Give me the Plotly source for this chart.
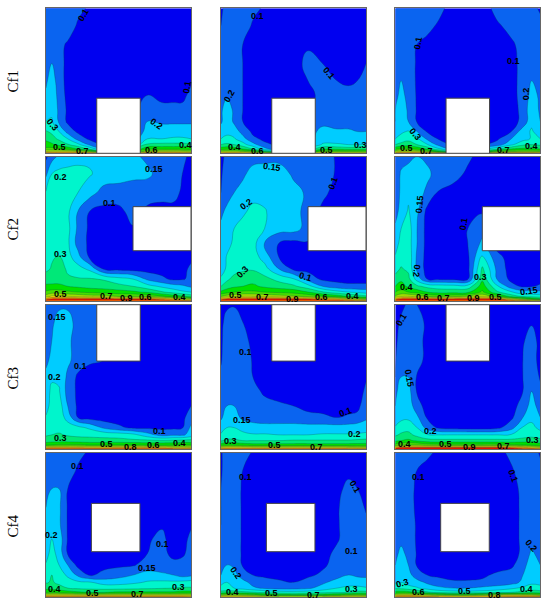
# Cf contour panels, 4 rows x 3 columns
import numpy as np
import plotly.graph_objects as go

# grid of every panel (fractions of the cavity), rows of z go bottom -> top
grid_x = [0, .04, .09, .15, .22, .30, .40, .50, .60, .70, .80, .88, .94, 1]
grid_y = [0, .012, .03, .06, .10, .15, .22, .30, .40, .50, .62, .75, .88, 1]

# values in hundredths
cf1_a = [
    [95, 100, 100, 100, 100, 95, 90, 90, 90, 95, 100, 100, 100, 95],
    [70, 72, 73, 72, 70, 62, 40, 40, 50, 66, 70, 70, 68, 65],
    [53, 54, 52, 47, 40, 28, 15, 15, 30, 48, 48, 48, 48, 46],
    [44, 42, 37, 31, 23, 14, 8, 8, 15, 32, 33, 33, 33, 32],
    [38, 34, 28, 20, 13, 8, 6, 6, 12, 20, 20, 21, 21, 20],
    [31, 28, 20, 13, 8, 6, 5, 5, 10, 17, 18, 18, 18, 18],
    [20, 21, 14, 8, 6, 5, 5, 5, 8, 15, 14, 14, 14, 14],
    [17, 19, 14, 8, 6, 5, 5, 5, 8, 12, 11, 11, 11, 12],
    [16, 19, 13, 7, 6, 5, 5, 5, 8, 10, 8, 8, 8, 11],
    [14, 18, 12, 7, 6, 5, 5, 5, 6, 7, 6, 6, 6, 9],
    [13, 15, 12, 7, 6, 5, 5, 5, 5, 5, 5, 5, 5, 7],
    [12, 12, 11, 9, 7, 5, 5, 5, 5, 5, 5, 5, 5, 6],
    [12, 12, 12, 12, 9, 7, 5, 5, 5, 5, 5, 5, 5, 6],
    [12, 12, 12, 12, 11, 9, 6, 5, 5, 5, 5, 5, 5, 6],
]
cf1_b = [
    [85, 90, 90, 90, 90, 80, 80, 80, 80, 80, 85, 85, 85, 80],
    [65, 66, 66, 62, 56, 40, 25, 25, 40, 58, 58, 58, 58, 56],
    [46, 48, 46, 40, 30, 17, 10, 10, 25, 38, 38, 36, 36, 36],
    [30, 32, 30, 24, 17, 11, 8, 8, 15, 21, 21, 20, 20, 20],
    [20, 22, 21, 17, 11, 8, 6, 6, 13, 18, 18, 18, 18, 18],
    [18, 19, 18, 13, 8, 6, 5, 5, 12, 17, 16, 16, 15, 15],
    [14, 19, 14, 10, 7, 5, 5, 5, 10, 13, 12, 12, 12, 13],
    [14, 18, 14, 10, 7, 5, 5, 5, 9, 12, 12, 12, 12, 12],
    [12, 14, 12, 10, 7, 5, 5, 5, 8, 11, 11, 11, 11, 11],
    [12, 12, 12, 10, 7, 5, 5, 6, 10, 11, 10, 9, 10, 11],
    [12, 12, 12, 10, 7, 5, 5, 7, 11, 10, 8, 7, 8, 10],
    [11, 12, 12, 10, 7, 5, 5, 6, 9, 9, 6, 5, 5, 6],
    [10, 12, 12, 12, 9, 7, 5, 5, 5, 5, 5, 5, 5, 5],
    [8, 12, 12, 12, 11, 9, 6, 5, 5, 5, 5, 5, 5, 5],
]
cf1_c = [
    [95, 100, 100, 100, 100, 95, 90, 90, 90, 95, 100, 100, 100, 95],
    [66, 70, 70, 68, 62, 45, 30, 30, 40, 55, 60, 62, 62, 60],
    [48, 52, 52, 48, 38, 22, 12, 12, 18, 28, 40, 42, 42, 40],
    [30, 33, 35, 30, 21, 13, 8, 8, 9, 12, 19, 28, 30, 28],
    [20, 24, 27, 22, 14, 9, 6, 6, 6, 8, 15, 18, 21, 20],
    [18, 19, 21, 15, 9, 6, 5, 5, 5, 6, 10, 18, 21, 18],
    [15, 19, 15, 9, 6, 5, 5, 5, 5, 5, 7, 11, 19, 15],
    [15, 19, 14, 9, 6, 5, 5, 5, 5, 5, 7, 11, 19, 14],
    [13, 17, 13, 9, 6, 5, 5, 5, 5, 5, 8, 11, 17, 14],
    [13, 15, 12, 9, 6, 5, 5, 5, 5, 5, 8, 11, 15, 13],
    [12, 13, 12, 9, 7, 5, 5, 5, 5, 5, 8, 11, 12, 12],
    [12, 12, 12, 10, 8, 6, 5, 5, 5, 6, 9, 11, 12, 12],
    [12, 12, 12, 12, 11, 9, 6, 5, 6, 9, 11, 12, 12, 12],
    [12, 12, 12, 12, 12, 11, 7, 5, 7, 11, 12, 12, 12, 8],
]
cf2_a = [
    [105, 110, 110, 110, 110, 110, 110, 110, 110, 110, 110, 105, 105, 100],
    [85, 92, 95, 95, 95, 95, 95, 90, 90, 90, 85, 78, 70, 65],
    [65, 72, 72, 70, 68, 65, 65, 60, 60, 58, 52, 46, 42, 36],
    [52, 55, 55, 52, 50, 48, 46, 44, 42, 38, 31, 26, 22, 20],
    [42, 42, 42, 40, 38, 36, 35, 33, 30, 24, 19, 17, 16, 14],
    [35, 36, 36, 32, 31, 31, 29, 24, 20, 14, 11, 8, 9, 11],
    [28, 31, 36, 28, 24, 19, 9, 7, 6, 6, 6, 6, 7, 11],
    [28, 29, 31, 24, 17, 9, 6, 5, 5, 5, 5, 5, 5, 8],
    [27, 25, 24, 22, 13, 8, 6, 5, 5, 5, 5, 5, 5, 5],
    [25, 24, 24, 23, 14, 8, 6, 6, 9, 8, 7, 7, 7, 7],
    [24, 25, 25, 22, 15, 10, 7, 7, 12, 8, 8, 8, 8, 8],
    [21, 24, 24, 23, 20, 17, 13, 13, 13, 12, 11, 11, 9, 8],
    [14, 20, 23, 24, 24, 21, 18, 17, 16, 16, 13, 12, 10, 8],
    [8, 13, 16, 17, 18, 19, 18, 17, 16, 14, 13, 12, 11, 8],
]
cf2_b = [
    [105, 110, 110, 110, 110, 110, 110, 110, 110, 110, 105, 105, 100, 100],
    [85, 90, 95, 95, 95, 95, 95, 90, 90, 85, 80, 72, 66, 60],
    [60, 65, 68, 70, 70, 68, 65, 62, 58, 52, 46, 40, 36, 32],
    [42, 46, 50, 52, 52, 50, 48, 46, 40, 31, 24, 20, 19, 18],
    [30, 35, 38, 40, 42, 38, 35, 32, 24, 15, 12, 11, 11, 11],
    [22, 28, 33, 36, 36, 33, 27, 21, 13, 8, 7, 7, 7, 7],
    [17, 22, 26, 28, 29, 24, 15, 8, 7, 5, 5, 5, 5, 5],
    [16, 21, 25, 27, 25, 18, 10, 6, 5, 5, 5, 5, 5, 5],
    [16, 18, 22, 26, 24, 15, 10, 7, 9, 5, 5, 5, 5, 5],
    [16, 17, 20, 24, 24, 20, 17, 17, 13, 7, 5, 5, 5, 5],
    [14, 16, 18, 19, 23, 21, 17, 17, 13, 8, 6, 5, 5, 5],
    [10, 13, 15, 17, 18, 18, 18, 17, 14, 11, 7, 5, 5, 5],
    [9, 12, 13, 14, 17, 18, 18, 14, 12, 12, 9, 6, 5, 5],
    [8, 11, 12, 13, 13, 13, 13, 13, 13, 12, 9, 6, 5, 5],
]
cf2_c = [
    [105, 110, 110, 110, 110, 110, 110, 110, 110, 110, 105, 100, 95, 90],
    [85, 92, 95, 95, 92, 90, 92, 95, 95, 90, 72, 60, 50, 42],
    [62, 68, 70, 66, 60, 56, 58, 62, 68, 55, 36, 28, 26, 25],
    [50, 54, 50, 46, 40, 36, 36, 38, 52, 32, 21, 17, 17, 16],
    [40, 44, 38, 32, 27, 25, 24, 24, 45, 22, 12, 8, 9, 11],
    [33, 38, 33, 18, 10, 8, 8, 9, 38, 15, 7, 6, 6, 6],
    [27, 31, 28, 14, 6, 5, 5, 7, 32, 14, 5, 5, 5, 5],
    [21, 26, 27, 14, 6, 5, 5, 8, 22, 12, 5, 5, 5, 5],
    [18, 23, 25, 15, 6, 5, 5, 10, 16, 5, 5, 5, 5, 5],
    [16, 20, 25, 15, 6, 5, 5, 10, 13, 5, 5, 5, 5, 5],
    [13, 17, 21, 16, 7, 5, 5, 9, 9, 5, 5, 5, 5, 5],
    [12, 16, 19, 17, 14, 9, 6, 5, 5, 5, 5, 5, 5, 5],
    [10, 16, 18, 18, 16, 13, 12, 8, 5, 5, 5, 5, 5, 5],
    [11, 12, 13, 15, 14, 13, 12, 11, 6, 5, 5, 5, 5, 5],
]
cf3_a = [
    [105, 105, 105, 105, 105, 105, 105, 105, 105, 105, 105, 105, 100, 100],
    [78, 80, 80, 80, 80, 78, 78, 80, 82, 80, 78, 72, 72, 70],
    [48, 50, 52, 52, 52, 50, 50, 50, 50, 48, 48, 48, 50, 50],
    [34, 35, 35, 35, 34, 33, 33, 33, 32, 32, 31, 32, 33, 33],
    [29, 30, 31, 29, 28, 28, 27, 26, 23, 17, 13, 14, 14, 17],
    [25, 27, 27, 25, 23, 19, 14, 11, 8, 8, 8, 8, 9, 16],
    [21, 25, 26, 18, 10, 6, 5, 5, 5, 5, 5, 5, 7, 13],
    [18, 24, 25, 15, 8, 5, 5, 5, 5, 5, 5, 5, 6, 10],
    [17, 23, 21, 13, 8, 5, 5, 5, 5, 5, 5, 5, 5, 8],
    [16, 19, 19, 14, 8, 5, 5, 5, 5, 5, 5, 5, 5, 5],
    [14, 16, 17, 16, 13, 11, 10, 7, 6, 5, 5, 5, 5, 5],
    [13, 15, 17, 16, 13, 12, 11, 8, 6, 5, 5, 5, 5, 5],
    [12, 14, 17, 17, 13, 11, 11, 8, 6, 5, 5, 5, 5, 5],
    [13, 13, 14, 14, 12, 11, 10, 8, 6, 5, 5, 5, 5, 5],
]
cf3_b = [
    [100, 100, 100, 100, 100, 100, 100, 100, 100, 100, 100, 100, 95, 95],
    [72, 75, 76, 75, 74, 74, 74, 74, 74, 74, 74, 72, 70, 68],
    [46, 48, 48, 46, 44, 44, 44, 44, 44, 44, 44, 44, 44, 44],
    [29, 32, 32, 30, 30, 30, 30, 31, 31, 31, 31, 31, 32, 33],
    [21, 24, 24, 23, 21, 21, 20, 20, 20, 21, 21, 21, 21, 22],
    [18, 20, 20, 18, 17, 17, 17, 17, 17, 17, 17, 17, 18, 18],
    [14, 18, 17, 14, 13, 12, 12, 12, 11, 11, 10, 11, 11, 14],
    [14, 15, 15, 14, 13, 12, 11, 10, 8, 6, 5, 5, 8, 12],
    [12, 13, 14, 13, 12, 8, 5, 5, 5, 5, 5, 5, 5, 11],
    [11, 13, 13, 13, 10, 6, 5, 5, 5, 5, 5, 5, 5, 9],
    [9, 13, 13, 13, 9, 5, 5, 5, 5, 5, 5, 5, 5, 5],
    [8, 13, 13, 12, 7, 5, 5, 5, 5, 5, 5, 5, 5, 5],
    [7, 12, 13, 10, 6, 5, 5, 5, 5, 5, 5, 5, 5, 5],
    [5, 8, 9, 9, 5, 5, 5, 5, 5, 5, 5, 5, 5, 5],
]
cf3_c = [
    [110, 110, 110, 110, 110, 110, 110, 110, 110, 110, 110, 105, 105, 100],
    [86, 90, 92, 92, 92, 92, 92, 92, 92, 90, 88, 82, 76, 70],
    [55, 58, 60, 60, 56, 54, 54, 54, 54, 54, 52, 50, 48, 44],
    [38, 40, 42, 38, 34, 33, 33, 33, 33, 33, 33, 35, 36, 34],
    [28, 32, 33, 27, 21, 20, 20, 20, 20, 20, 21, 24, 26, 23],
    [21, 24, 26, 20, 13, 8, 6, 5, 5, 7, 13, 21, 22, 19],
    [17, 19, 19, 16, 9, 6, 5, 5, 5, 5, 8, 15, 19, 15],
    [15, 18, 18, 12, 6, 5, 5, 5, 5, 5, 6, 12, 17, 13],
    [14, 17, 17, 9, 6, 5, 5, 5, 5, 5, 5, 10, 15, 11],
    [10, 15, 15, 9, 6, 5, 5, 5, 5, 5, 5, 10, 13, 9],
    [9, 14, 14, 12, 7, 5, 5, 5, 5, 5, 6, 10, 12, 7],
    [8, 12, 12, 12, 7, 5, 5, 5, 5, 5, 5, 9, 12, 7],
    [6, 11, 13, 13, 7, 5, 5, 5, 5, 5, 5, 8, 9, 5],
    [5, 7, 11, 10, 6, 5, 5, 5, 5, 5, 5, 5, 5, 5],
]
cf4_a = [
    [95, 95, 95, 95, 95, 95, 95, 95, 95, 95, 95, 95, 95, 90],
    [70, 72, 72, 72, 70, 70, 70, 70, 70, 70, 70, 70, 70, 68],
    [50, 50, 48, 45, 42, 40, 40, 42, 42, 42, 42, 42, 44, 44],
    [36, 36, 33, 30, 28, 27, 26, 26, 27, 28, 29, 30, 31, 31],
    [29, 31, 28, 25, 22, 21, 18, 18, 19, 21, 22, 22, 23, 24],
    [27, 30, 26, 19, 14, 9, 11, 13, 15, 17, 16, 15, 13, 14],
    [21, 26, 20, 15, 7, 5, 8, 8, 9, 12, 12, 11, 11, 13],
    [18, 24, 18, 9, 6, 5, 5, 5, 8, 10, 11, 8, 9, 11],
    [17, 20, 18, 9, 6, 5, 5, 5, 7, 9, 11, 6, 7, 11],
    [16, 18, 16, 9, 6, 5, 5, 5, 5, 7, 9, 5, 5, 9],
    [15, 18, 16, 9, 6, 5, 5, 5, 5, 5, 5, 5, 5, 5],
    [12, 15, 15, 10, 6, 5, 5, 5, 5, 5, 5, 5, 5, 5],
    [12, 13, 13, 12, 9, 6, 5, 5, 5, 5, 5, 5, 5, 5],
    [12, 12, 12, 12, 11, 9, 6, 5, 5, 5, 5, 5, 5, 5],
]
cf4_b = [
    [85, 85, 85, 85, 85, 82, 80, 80, 80, 80, 82, 85, 85, 82],
    [60, 62, 62, 60, 56, 50, 45, 44, 44, 46, 50, 54, 56, 55],
    [34, 35, 35, 33, 31, 28, 25, 24, 25, 27, 28, 30, 33, 33],
    [22, 22, 20, 18, 16, 14, 13, 13, 14, 17, 20, 22, 22, 21],
    [19, 20, 19, 17, 13, 12, 11, 10, 12, 14, 17, 18, 18, 17],
    [15, 19, 17, 12, 10, 8, 6, 6, 8, 11, 13, 15, 14, 14],
    [13, 15, 14, 9, 6, 5, 5, 5, 5, 8, 12, 12, 12, 12],
    [11, 12, 12, 9, 6, 5, 5, 5, 5, 7, 11, 12, 12, 12],
    [11, 12, 12, 9, 6, 5, 5, 5, 5, 5, 9, 12, 12, 12],
    [10, 12, 12, 9, 6, 5, 5, 5, 5, 5, 9, 12, 12, 11],
    [10, 12, 12, 9, 6, 5, 5, 5, 5, 5, 9, 12, 12, 9],
    [10, 12, 12, 9, 6, 5, 5, 5, 5, 5, 8, 11, 10, 6],
    [9, 12, 12, 10, 7, 5, 5, 5, 5, 5, 5, 8, 5, 5],
    [9, 12, 12, 12, 9, 7, 5, 5, 5, 5, 5, 5, 5, 5],
]
cf4_c = [
    [100, 100, 100, 100, 95, 90, 90, 90, 90, 90, 95, 100, 100, 95],
    [70, 72, 72, 70, 66, 60, 56, 56, 60, 66, 70, 68, 66, 60],
    [44, 45, 44, 38, 32, 27, 25, 24, 25, 27, 30, 33, 36, 34],
    [28, 27, 24, 21, 18, 16, 15, 15, 16, 17, 19, 22, 24, 24],
    [19, 20, 18, 17, 14, 12, 11, 11, 11, 12, 13, 16, 19, 18],
    [18, 19, 17, 12, 10, 8, 5, 5, 8, 11, 12, 15, 18, 18],
    [15, 19, 15, 9, 6, 5, 5, 5, 5, 5, 8, 13, 18, 15],
    [14, 16, 14, 9, 6, 5, 5, 5, 5, 5, 6, 11, 16, 13],
    [12, 14, 12, 9, 6, 5, 5, 5, 5, 5, 6, 11, 13, 12],
    [12, 12, 12, 9, 6, 5, 5, 5, 5, 5, 6, 11, 12, 12],
    [12, 12, 11, 9, 6, 5, 5, 5, 5, 5, 6, 11, 12, 12],
    [12, 12, 11, 9, 6, 5, 5, 5, 5, 5, 7, 11, 12, 12],
    [12, 12, 13, 10, 7, 5, 5, 5, 5, 6, 9, 12, 12, 11],
    [12, 12, 12, 12, 11, 8, 5, 5, 5, 7, 11, 12, 12, 9],
]

panels = [cf1_a, cf1_b, cf1_c, cf2_a, cf2_b, cf2_c, cf3_a, cf3_b, cf3_c, cf4_a, cf4_b, cf4_c]
row_names = ["Cf1", "Cf2", "Cf3", "Cf4"]

# the white obstacle of each row: x0, x1, y0, y1
blocks = [
    (.35, .65, 0, .38),
    (.60, 1, .347, .653),
    (.35, .65, .61, 1),
    (.313, .648, .3125, .648),
]

# contour labels per panel: x, y, text, angle
labels = [
    [(.257, .954, "0.1", -60), (.975, .455, "0.1", -80), (.046, .195, "0.3", 50), (.763, .202, "0.2", 35),
     (.092, .046, "0.5", 0), (.25, .018, "0.7", 0), (.729, .023, "0.6", 0), (.959, .057, "0.4", 0)],
    [(.253, .949, "0.1", 0), (.057, .395, "0.2", -60), (.745, .556, "0.1", 50), (.092, .046, "0.4", 0),
     (.25, .016, "0.6", 0), (.729, .023, "0.5", 0), (.963, .057, "0.3", 0)],
    [(.159, .759, "0.1", -80), (.814, .639, "0.1", 0), (.901, .414, "0.2", -90), (.136, .133, "0.3", 50),
     (.074, .034, "0.5", 0), (.216, .016, "0.7", 0), (.745, .023, "0.7", 0), (.94, .05, "0.4", 0)],
    [(.103, .861, "0.2", 0), (.743, .912, "0.15", 0), (.441, .676, "0.1", 0), (.097, .322, "0.3", 0),
     (.101, .044, "0.5", 0), (.418, .032, "0.7", 0), (.552, .016, "0.9", 0), (.683, .025, "0.6", 0),
     (.924, .023, "0.4", 0)],
    [(.349, .926, "0.15", 8), (.775, .815, "0.1", -70), (.177, .669, "0.2", -35), (.147, .201, "0.3", -45),
     (.586, .164, "0.1", 15), (.101, .037, "0.5", 0), (.283, .025, "0.7", 0), (.492, .014, "0.9", 0),
     (.694, .028, "0.6", 0), (.908, .03, "0.4", 0)],
    [(.17, .669, "0.15", -85), (.474, .53, "0.1", -80), (.147, .206, "0.2", 95), (.078, .093, "0.4", 0),
     (.591, .164, "0.3", 0), (.922, .069, "0.15", -8), (.189, .025, "0.6", 0), (.331, .021, "0.7", 0),
     (.538, .021, "0.9", 0), (.69, .025, "0.5", 0)],
    [(.076, .912, "0.15", 0), (.241, .578, "0.1", 0), (.06, .498, "0.2", 0), (.097, .081, "0.3", 0),
     (.784, .129, "0.1", 0), (.418, .035, "0.5", 0), (.586, .016, "0.8", 0), (.74, .028, "0.6", 0),
     (.924, .046, "0.4", 0)],
    [(.172, .67, "0.1", 0), (.86, .26, "0.1", -20), (.147, .203, "0.15", 0), (.918, .108, "0.2", 0),
     (.067, .058, "0.3", 0), (.372, .03, "0.5", 0), (.66, .018, "0.7", 0)],
    [(.046, .899, "0.1", -60), (.094, .491, "0.15", 80), (.246, .127, "0.2", 0), (.064, .039, "0.4", 0),
     (.349, .035, "0.5", 0), (.51, .018, "0.9", 0), (.749, .025, "0.7", 0), (.947, .062, "0.3", 0)],
    [(.216, .905, "0.1", 0), (.039, .426, "0.2", 0), (.802, .363, "0.1", 0), (.699, .197, "0.15", 0),
     (.057, .051, "0.4", 0), (.915, .067, "0.3", 0), (.324, .025, "0.5", 0), (.628, .016, "0.7", 0)],
    [(.168, .831, "0.1", 0), (.924, .759, "0.1", 60), (.899, .319, "0.1", 0), (.101, .162, "0.2", 55),
     (.078, .03, "0.4", 0), (.349, .023, "0.5", 0), (.637, .014, "0.7", 0), (.903, .053, "0.3", 0)],
    [(.163, .831, "0.1", 0), (.814, .84, "0.1", 70), (.94, .354, "0.2", 50), (.053, .093, "0.3", -15),
     (.163, .03, "0.6", 0), (.476, .037, "0.5", 0), (.685, .014, "0.8", 0), (.903, .053, "0.4", 0)],
]

# contour levels are not evenly spaced, so z goes through a level index
levels = [0, .1, .15, .2, .3, .4, .5, .6, .7, .8, .9, 1.2]
band_colors = ["#0000f0", "#0a64f0", "#00ccff", "#00f5cc", "#00e878", "#00e000",
               "#44e000", "#a0e000", "#f0e000", "#ff8c00", "#e81000"]

W, H = 550, 607
col_px = [(46, 191), (221, 366), (395.3, 540.3)]
row_px = [(8.3, 153.3), (156.7, 300.7), (304.7, 449.3), (452.7, 596.7)]
row_label_y = [81, 229, 378, 526]

n = len(band_colors)
colorscale = []
for i, c in enumerate(band_colors):
    colorscale += [[i / n, c], [(i + 1) / n, c]]

fig = go.Figure()
layout = {}
shapes = []
annotations = []

for i, z in enumerate(panels):
    r, c = divmod(i, 3)
    name = "" if i == 0 else str(i + 1)
    z_level = np.interp(np.array(z) / 100, levels, np.arange(len(levels)))
    fig.add_trace(go.Contour(
        x=grid_x, y=grid_y, z=z_level,
        xaxis="x" + name, yaxis="y" + name,
        colorscale=colorscale, zmin=0, zmax=n, showscale=False,
        contours=dict(start=1, end=10, size=1, coloring="fill"),
        line=dict(color="rgba(0,70,70,0.55)", width=0.5, smoothing=1.3),
        hoverinfo="skip",
    ))
    axis = dict(range=[0, 1], showgrid=False, zeroline=False, ticks="", showticklabels=False,
                showline=True, mirror=True, linecolor="#666666", linewidth=1)
    layout["xaxis" + name] = dict(axis, domain=[col_px[c][0] / W, col_px[c][1] / W], anchor="y" + name)
    layout["yaxis" + name] = dict(axis, domain=[1 - row_px[r][1] / H, 1 - row_px[r][0] / H], anchor="x" + name)

    x0, x1, y0, y1 = blocks[r]
    shapes.append(dict(type="rect", xref="x" + name, yref="y" + name, x0=x0, x1=x1, y0=y0, y1=y1,
                       fillcolor="white", line=dict(color="#444444", width=1), layer="above"))
    for lx, ly, text, angle in labels[i]:
        annotations.append(dict(x=lx, y=ly, xref="x" + name, yref="y" + name, text=text, textangle=angle,
                                showarrow=False,
                                font=dict(family="Liberation Sans", size=9, color="black", weight="bold")))

for name, y in zip(row_names, row_label_y):
    annotations.append(dict(x=12.5 / W, y=1 - y / H, xref="paper", yref="paper", text=name, textangle=-90,
                            xanchor="center", yanchor="middle", showarrow=False,
                            font=dict(family="Liberation Serif", size=15, color="black")))

fig.update_layout(width=W, height=H, margin=dict(l=0, r=0, t=0, b=0), paper_bgcolor="white",
                  plot_bgcolor="white", showlegend=False, shapes=shapes, annotations=annotations, **layout)
fig.write_html("out.html", config={"displayModeBar": False},
               post_script="document.body.style.margin='0';")
